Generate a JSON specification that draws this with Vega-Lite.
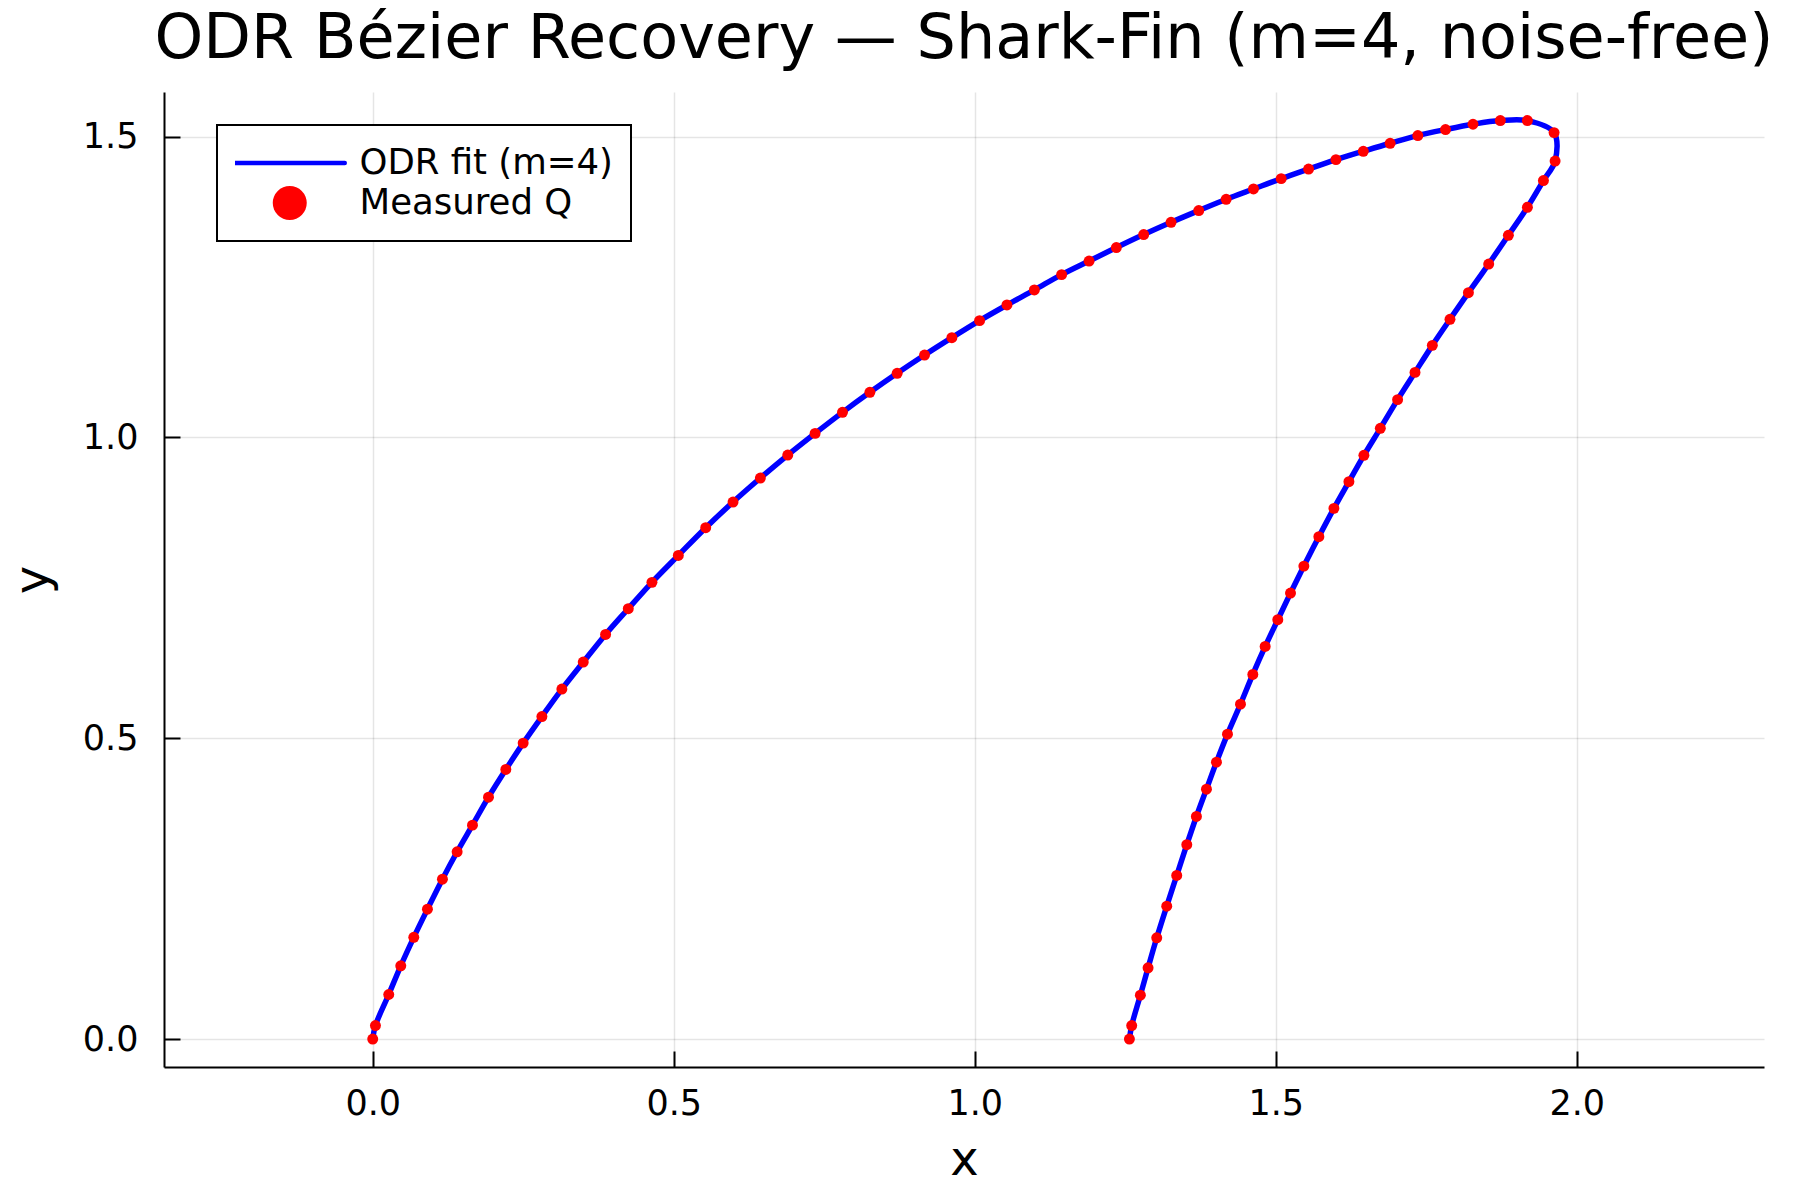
{
  "$schema": "https://vega.github.io/schema/vega-lite/v6.json",
  "width": 1600,
  "height": 975,
  "autosize": {"type": "none"},
  "padding": {"left": 164, "top": 92, "right": 36, "bottom": 133},
  "background": "white",
  "config": {
    "view": {"stroke": null},
    "font": "DejaVu Sans",
    "legend": {"strokeWidth": 2},
    "axis": {
      "domainColor": "black", "domainWidth": 2,
      "tickColor": "black", "tickWidth": 2, "tickSize": -16,
      "labelFont": "DejaVu Sans", "labelFontSize": 35, "labelColor": "black",
      "titleFont": "DejaVu Sans", "titleFontSize": 48, "titleFontWeight": "normal", "titleColor": "black",
      "gridColor": "black", "gridOpacity": 0.1, "gridWidth": 1.5,
      "labelFlush": false, "labelOverlap": false
    }
  },
  "title": {
    "text": "ODR Bézier Recovery — Shark-Fin (m=4, noise-free)",
    "fontSize": 62, "fontWeight": "normal", "font": "DejaVu Sans", "color": "black",
    "anchor": "middle", "frame": "group", "baseline": "alphabetic", "offset": 35, "dy": 63
  },
  "data": {"values": [
    {"t": 1, "x": 0.0, "y": 0.0},
    {"t": 2, "x": 0.0045, "y": 0.0224},
    {"t": 3, "x": 0.0266, "y": 0.074},
    {"t": 4, "x": 0.0466, "y": 0.1217},
    {"t": 5, "x": 0.0682, "y": 0.169},
    {"t": 6, "x": 0.0909, "y": 0.2158},
    {"t": 7, "x": 0.1158, "y": 0.2657},
    {"t": 8, "x": 0.1402, "y": 0.3112},
    {"t": 9, "x": 0.1657, "y": 0.3555},
    {"t": 10, "x": 0.1923, "y": 0.402},
    {"t": 11, "x": 0.2211, "y": 0.448},
    {"t": 12, "x": 0.2499, "y": 0.4918},
    {"t": 13, "x": 0.281, "y": 0.536},
    {"t": 14, "x": 0.3142, "y": 0.5816},
    {"t": 15, "x": 0.3497, "y": 0.6265},
    {"t": 16, "x": 0.3868, "y": 0.6725},
    {"t": 17, "x": 0.4245, "y": 0.7152},
    {"t": 18, "x": 0.4638, "y": 0.759},
    {"t": 19, "x": 0.5076, "y": 0.8038},
    {"t": 20, "x": 0.5531, "y": 0.8498},
    {"t": 21, "x": 0.5985, "y": 0.8925},
    {"t": 22, "x": 0.6439, "y": 0.9324},
    {"t": 23, "x": 0.6894, "y": 0.9706},
    {"t": 24, "x": 0.7348, "y": 1.0066},
    {"t": 25, "x": 0.7803, "y": 1.0416},
    {"t": 26, "x": 0.8258, "y": 1.0748},
    {"t": 27, "x": 0.8711, "y": 1.1064},
    {"t": 28, "x": 0.9166, "y": 1.1368},
    {"t": 29, "x": 0.962, "y": 1.1657},
    {"t": 30, "x": 1.008, "y": 1.194},
    {"t": 31, "x": 1.0535, "y": 1.22},
    {"t": 32, "x": 1.099, "y": 1.245},
    {"t": 33, "x": 1.1443, "y": 1.2705},
    {"t": 34, "x": 1.1899, "y": 1.2931},
    {"t": 35, "x": 1.2352, "y": 1.3154},
    {"t": 36, "x": 1.2806, "y": 1.337},
    {"t": 37, "x": 1.3261, "y": 1.3574},
    {"t": 38, "x": 1.3721, "y": 1.3769},
    {"t": 39, "x": 1.4176, "y": 1.3957},
    {"t": 40, "x": 1.463, "y": 1.4128},
    {"t": 41, "x": 1.509, "y": 1.43},
    {"t": 42, "x": 1.5545, "y": 1.446},
    {"t": 43, "x": 1.6, "y": 1.4616},
    {"t": 44, "x": 1.6454, "y": 1.4755},
    {"t": 45, "x": 1.69, "y": 1.4888},
    {"t": 46, "x": 1.736, "y": 1.5016},
    {"t": 47, "x": 1.782, "y": 1.5116},
    {"t": 48, "x": 1.8276, "y": 1.5204},
    {"t": 49, "x": 1.873, "y": 1.5265},
    {"t": 50, "x": 1.918, "y": 1.5265},
    {"t": 51, "x": 1.9623, "y": 1.5065},
    {"t": 52, "x": 1.964, "y": 1.4593},
    {"t": 53, "x": 1.9446, "y": 1.4268},
    {"t": 54, "x": 1.918, "y": 1.3824},
    {"t": 55, "x": 1.8864, "y": 1.3358},
    {"t": 56, "x": 1.8537, "y": 1.2881},
    {"t": 57, "x": 1.82, "y": 1.2405},
    {"t": 58, "x": 1.7894, "y": 1.1962},
    {"t": 59, "x": 1.7601, "y": 1.1529},
    {"t": 60, "x": 1.7313, "y": 1.108},
    {"t": 61, "x": 1.7024, "y": 1.0627},
    {"t": 62, "x": 1.6737, "y": 1.015},
    {"t": 63, "x": 1.6464, "y": 0.9701},
    {"t": 64, "x": 1.6215, "y": 0.9263},
    {"t": 65, "x": 1.5966, "y": 0.882},
    {"t": 66, "x": 1.5716, "y": 0.8349},
    {"t": 67, "x": 1.5467, "y": 0.786},
    {"t": 68, "x": 1.5245, "y": 0.7412},
    {"t": 69, "x": 1.5034, "y": 0.6969},
    {"t": 70, "x": 1.4824, "y": 0.6525},
    {"t": 71, "x": 1.4619, "y": 0.606},
    {"t": 72, "x": 1.4414, "y": 0.5566},
    {"t": 73, "x": 1.4198, "y": 0.5067},
    {"t": 74, "x": 1.4015, "y": 0.4602},
    {"t": 75, "x": 1.3849, "y": 0.4153},
    {"t": 76, "x": 1.3682, "y": 0.3699},
    {"t": 77, "x": 1.3522, "y": 0.3229},
    {"t": 78, "x": 1.3355, "y": 0.2718},
    {"t": 79, "x": 1.3189, "y": 0.2208},
    {"t": 80, "x": 1.3023, "y": 0.1682},
    {"t": 81, "x": 1.2879, "y": 0.1184},
    {"t": 82, "x": 1.2751, "y": 0.0729},
    {"t": 83, "x": 1.2607, "y": 0.0224},
    {"t": 84, "x": 1.2569, "y": 0.0}
  ]},
  "encoding": {
    "x": {
      "field": "x", "type": "quantitative",
      "scale": {"domain": [-0.3467, 2.311], "nice": false, "zero": false},
      "axis": {"values": [0, 0.5, 1, 1.5, 2], "format": ".1f", "title": "x", "labelPadding": 35, "titlePadding": 15}
    },
    "y": {
      "field": "y", "type": "quantitative",
      "scale": {"domain": [-0.0465, 1.574], "nice": false, "zero": false},
      "axis": {"values": [0, 0.5, 1, 1.5], "format": ".1f", "title": "y", "labelPadding": 42, "titlePadding": 25}
    }
  },
  "layer": [
    {
      "mark": {"type": "line", "strokeWidth": 5.5, "interpolate": "catmull-rom", "strokeCap": "round", "strokeJoin": "round"},
      "encoding": {
        "order": {"field": "t", "type": "quantitative"},
        "color": {
          "datum": "ODR fit (m=4)",
          "type": "nominal",
          "scale": {"domain": ["ODR fit (m=4)", "Measured Q"], "range": ["#0000ff", "#ff0000"]},
          "legend": {
            "title": null, "orient": "none", "legendX": 53, "legendY": 33, "direction": "vertical",
            "strokeColor": "black", "fillColor": "white", "padding": 18, "cornerRadius": 0,
            "labelFont": "DejaVu Sans", "labelFontSize": 35.5, "labelColor": "black", "labelOffset": 52, "labelLimit": 500,
            "symbolSize": 12321, "symbolOffset": 37, "clipHeight": 40, "rowPadding": 0, "symbolStrokeWidth": 4.5, "symbolOpacity": 1,
            "encode": {
              "symbols": {
                "update": {
                  "shape": {"signal": "datum.value === 'Measured Q' ? 'circle' : 'stroke'"},
                  "size": {"signal": "datum.value === 'Measured Q' ? 1156 : 12100"},
                  "fill": {"signal": "datum.value === 'Measured Q' ? '#ff0000' : 'transparent'"},
                  "stroke": {"signal": "datum.value === 'Measured Q' ? 'transparent' : '#0000ff'"},
                  "strokeWidth": {"signal": "datum.value === 'Measured Q' ? 0 : 4.5"},
                  "strokeCap": {"value": "round"},
                  "opacity": {"value": 1}
                }
              }
            }
          }
        }
      }
    },
    {
      "mark": {"type": "point", "filled": true, "size": 120, "opacity": 1},
      "encoding": {
        "color": {"datum": "Measured Q", "type": "nominal"}
      }
    }
  ]
}
